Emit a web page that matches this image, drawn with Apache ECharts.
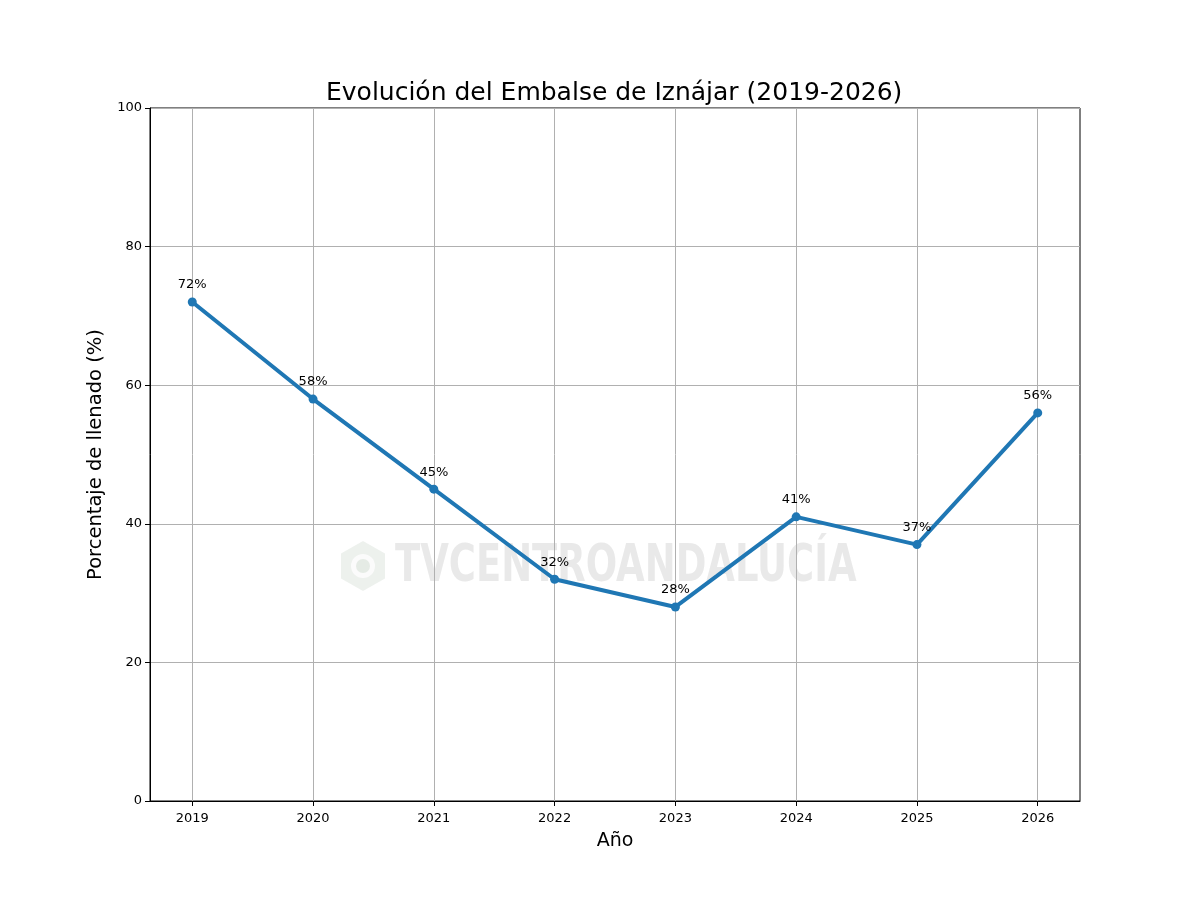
<!DOCTYPE html>
<html>
<head>
    <meta charset="utf-8">
    <script src="https://cdn.jsdelivr.net/npm/echarts@6/dist/echarts.min.js"></script>
    <title>Embalse de Iznájar</title>
</head>
<body style="margin:0;background:#fff;">
    <div id="main" style="width:1200px;height:900px;"></div>
    <script type="text/javascript">
        var years = [2019, 2020, 2021, 2022, 2023, 2024, 2025, 2026];
        var fillPct = [72, 58, 45, 32, 28, 41, 37, 56];
        var yTicks = [0, 20, 40, 60, 80, 100];

        var points = [];
        for (var i = 0; i < years.length; i++) {
            points.push([years[i], fillPct[i]]);
        }

        var gridColor = '#b0b0b0';
        var font = 'DejaVu Sans';

        var myChart = echarts.init(document.getElementById('main'), null, { renderer: 'canvas' });

        var option = {
            backgroundColor: '#ffffff',
            animation: false,
            title: {
                text: 'Evolución del Embalse de Iznájar (2019-2026)',
                left: 321,
                top: 76,
                textStyle: {
                    fontFamily: font,
                    fontSize: 25,
                    fontWeight: 'normal',
                    color: '#000'
                }
            },
            grid: {
                left: 150,
                right: 120,
                top: 108,
                bottom: 99,
                show: true,
                borderColor: '#000',
                borderWidth: 1,
                containLabel: false
            },
            // watermark
            graphic: [{
                type: 'polygon',
                z: 0,
                shape: {
                    points: [[363, 541], [385, 553.5], [385, 578.5], [363, 591], [341, 578.5], [341, 553.5]]
                },
                style: { fill: 'rgba(215,225,215,0.45)' }
            }, {
                type: 'circle',
                z: 0,
                shape: { cx: 363, cy: 566, r: 12 },
                style: { fill: '#fbfbfb' }
            }, {
                type: 'circle',
                z: 0,
                shape: { cx: 363, cy: 566, r: 7 },
                style: { fill: 'rgba(215,225,215,0.6)' }
            }, {
                type: 'text',
                z: 0,
                x: 395,
                y: 567,
                scaleX: 0.79,
                style: {
                    text: 'TVCENTROANDALUCÍA',
                    fontFamily: 'DejaVu Sans Condensed',
                    fontWeight: 'bold',
                    fontSize: 52,
                    fill: 'rgba(200,200,200,0.4)',
                    textVerticalAlign: 'middle'
                }
            }],
            xAxis: {
                type: 'value',
                min: 2018.65,
                max: 2026.35,
                name: 'Año',
                nameLocation: 'middle',
                nameGap: 31,
                nameTextStyle: { fontFamily: font, fontSize: 19, color: '#000' },
                axisLine: { show: true, lineStyle: { color: '#000', width: 1 } },
                axisTick: {
                    show: true,
                    length: 5,
                    inside: false,
                    customValues: years,
                    lineStyle: { color: '#000', width: 1 }
                },
                axisLabel: {
                    customValues: years,
                    margin: 11,
                    fontFamily: font,
                    fontSize: 13,
                    color: '#000',
                    formatter: function (v) { return String(Math.round(v)); }
                },
                splitLine: { show: true, lineStyle: { color: gridColor, width: 1 } }
            },
            yAxis: {
                type: 'value',
                min: 0,
                max: 100,
                interval: 20,
                name: 'Porcentaje de llenado (%)',
                nameLocation: 'middle',
                nameGap: 42,
                nameTextStyle: { fontFamily: font, fontSize: 19.5, color: '#000' },
                axisLine: { show: true, lineStyle: { color: '#000', width: 1 } },
                axisTick: {
                    show: true,
                    length: 5,
                    inside: false,
                    customValues: yTicks,
                    lineStyle: { color: '#000', width: 1 }
                },
                axisLabel: {
                    customValues: yTicks,
                    margin: 8,
                    fontFamily: font,
                    fontSize: 13,
                    color: '#000'
                },
                splitLine: { show: true, lineStyle: { color: gridColor, width: 1 } }
            },
            series: [{
                name: 'Llenado',
                type: 'line',
                z: 5,
                data: points,
                symbol: 'circle',
                symbolSize: 9,
                itemStyle: { color: '#1f77b4' },
                lineStyle: { color: '#1f77b4', width: 4 },
                label: {
                    show: true,
                    position: 'top',
                    distance: 6,
                    fontFamily: font,
                    fontSize: 13,
                    color: '#000',
                    formatter: function (p) { return p.value[1] + '%'; }
                }
            }]
        };

        myChart.setOption(option);
    </script>
</body>
</html>
